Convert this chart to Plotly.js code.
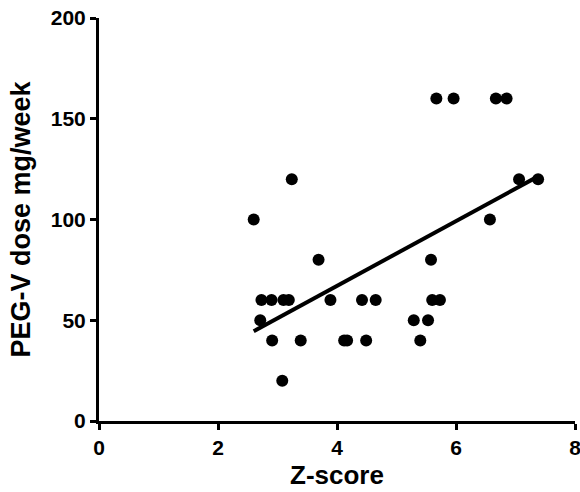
<!DOCTYPE html>
<html><head><meta charset="utf-8">
<script src="https://cdn.plot.ly/plotly-3.0.1.min.js"></script>
<style>html,body{margin:0;padding:0;background:#fff}#chart{width:580px;height:492px}</style>
</head><body><div id="chart"></div>
<script>
const zScore = [2.60,3.24,3.69,2.73,2.90,3.10,3.19,3.89,4.42,4.65,2.71,2.91,3.39,4.12,4.17,4.49,3.08,5.67,5.96,6.67,6.85,7.06,7.38,6.57,5.58,5.60,5.73,5.29,5.53,5.40];
const dose   = [100,120,80,60,60,60,60,60,60,60,50,40,40,40,40,40,20,160,160,160,160,120,120,100,80,60,60,50,50,40];
const xTicks = [0,2,4,6,8];
const yTicks = [0,50,100,150,200];

// linear regression
const n = zScore.length;
const mx = zScore.reduce((a,b)=>a+b,0)/n;
const my = dose.reduce((a,b)=>a+b,0)/n;
let sxy=0, sxx=0;
for (let i=0;i<n;i++){ sxy += (zScore[i]-mx)*(dose[i]-my); sxx += (zScore[i]-mx)**2; }
const slope = sxy/sxx, icpt = my - slope*mx;
const xmin = Math.min(...zScore), xmax = Math.max(...zScore);
const fitX = [xmin, xmax];
const fitY = fitX.map(x => icpt + slope*x);

const fam = 'Liberation Sans, Arial, sans-serif';
const tickfont = {family:fam, size:21, color:'#000', weight:700};
const xtitlefont = {family:fam, size:26, color:'#000', weight:700};
const ytitlefont = {family:fam, size:27, color:'#000', weight:700};

const data = [
  {x: zScore, y: dose, mode:'markers', type:'scatter', marker:{color:'#000', size:12}, hoverinfo:'none', cliponaxis:false},
  {x: fitX, y: fitY, mode:'lines', type:'scatter', line:{color:'#000', width:4}, hoverinfo:'none'}
];
const layout = {
  width:580, height:492,
  margin:{l:99, r:5, t:18, b:71},
  paper_bgcolor:'#fff', plot_bgcolor:'#fff',
  showlegend:false,
  xaxis:{range:[0,8], tickvals:xTicks, ticktext:xTicks.map(v=>'<b>'+v+'</b>'), showgrid:false, zeroline:false,
         showline:true, linecolor:'#000', linewidth:3, ticks:'outside', ticklen:6, tickwidth:3, tickcolor:'#000',
         ticklabeloverflow:'allow',
         tickfont:tickfont, title:{text:'<b>Z-score</b>', font:xtitlefont, standoff:8}},
  yaxis:{range:[0,200], tickvals:yTicks, ticktext:yTicks.map(v=>'<b>'+v+'</b>'), showgrid:false, zeroline:false,
         showline:true, linecolor:'#000', linewidth:3, ticks:'outside', ticklen:6, tickwidth:3, tickcolor:'#000',
         ticklabeloverflow:'allow',
         tickfont:tickfont, title:{text:'<b>PEG-V dose mg/week</b>', font:ytitlefont, standoff:13}}
};
Plotly.newPlot('chart', data, layout, {staticPlot:true});
</script></body></html>
